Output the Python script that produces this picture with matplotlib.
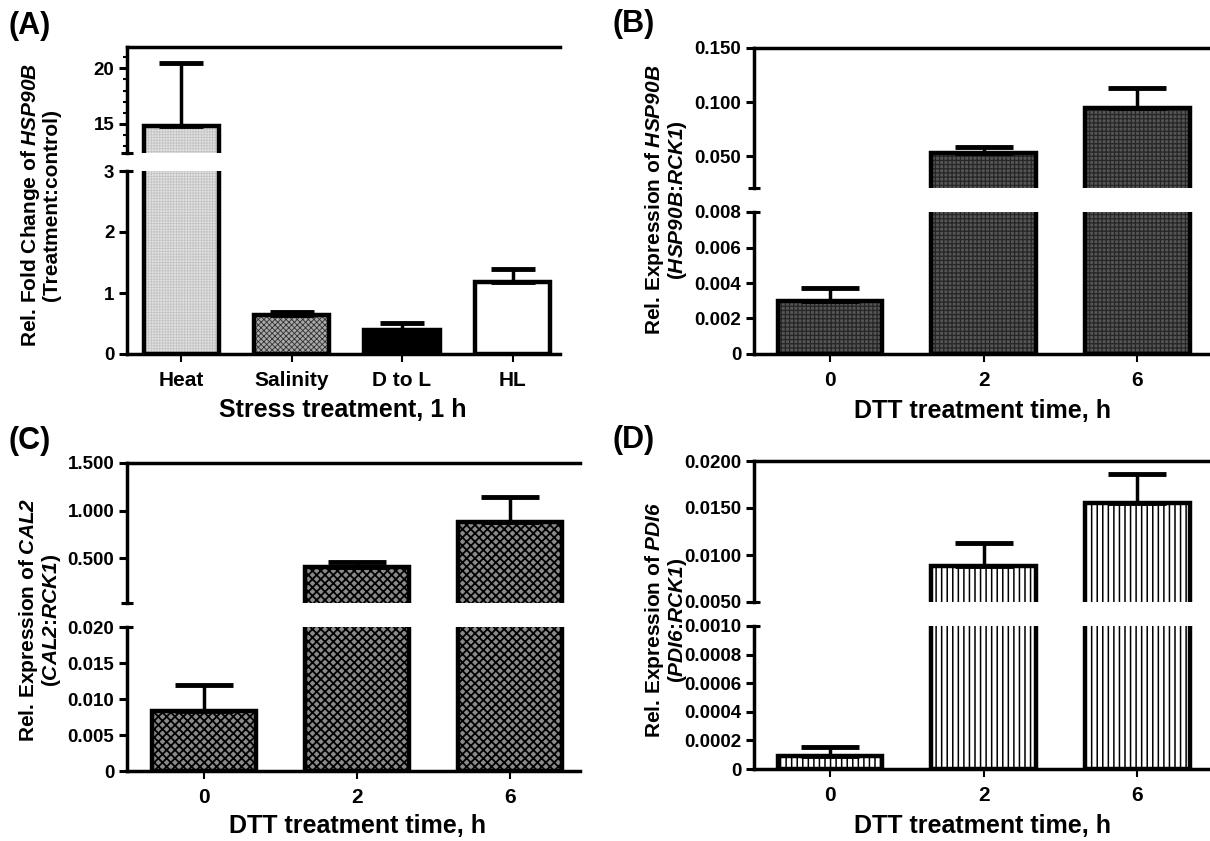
import numpy as np
import matplotlib
matplotlib.use("Agg")
import matplotlib.pyplot as plt

plt.rcParams['font.family'] = ['Liberation Sans', 'DejaVu Sans']
plt.rcParams['font.weight'] = 'bold'
# math text is only used for gene names: bold italic for letters and digits
plt.rcParams['mathtext.fontset'] = 'custom'
plt.rcParams['mathtext.rm'] = 'Liberation Sans:italic:bold'
plt.rcParams['mathtext.it'] = 'Liberation Sans:italic:bold'
plt.rcParams['mathtext.bf'] = 'Liberation Sans:italic:bold'

# (A) stress treatments, 1 h
a_labels = ["Heat", "Salinity", "D to L", "HL"]
a_vals = [14.85, 0.64, 0.40, 1.18]
a_errs = [5.6, 0.05, 0.10, 0.22]

# DTT time course (0, 2, 6 h)
dtt_labels = ["0", "2", "6"]
b_vals = [0.0030, 0.0525, 0.0948]
b_errs = [0.00074, 0.0060, 0.0183]
c_vals = [0.0083, 0.409, 0.877]
c_errs = [0.0036, 0.052, 0.263]
d_vals = [0.000093, 0.00886, 0.0155]
d_errs = [0.000062, 0.00239, 0.0031]

W, H = 1210, 841
fig = plt.figure(figsize=(W / 100, H / 100), dpi=100)


def px_axes(x0, x1, ytop, ybot):
    return fig.add_axes([x0 / W, 1 - ybot / H, (x1 - x0) / W, (ybot - ytop) / H])


def draw_bars(ax, vals, errs, style, width, capsize, ymin):
    face, hatch, hcolor, hlw = style
    x = np.arange(len(vals))
    keep = [i for i in x if vals[i] > ymin]   # skip bars that end below this segment
    xs = x[keep]
    v = np.array(vals)[keep]
    e = np.array(errs)[keep]
    faces = [face[i] for i in keep] if isinstance(face, list) else face
    hatches = [hatch[i] for i in keep] if isinstance(hatch, list) else hatch
    hcols = [hcolor[i] for i in keep] if isinstance(hcolor, list) else hcolor
    with plt.rc_context({'hatch.linewidth': hlw}):
        ax.bar(xs, v, width=width, color=faces, hatch=hatches, edgecolor=hcols, linewidth=0, zorder=2)
    ax.bar(xs, v, width=width, fill=False, edgecolor='black', linewidth=3.2, zorder=3)
    ax.errorbar(xs, v, yerr=[np.zeros(len(v)), e], fmt='none', ecolor='black',
                elinewidth=2.5, capsize=capsize, capthick=3.5, zorder=4)


def broken_panel(xpx, top_px, bot_px, vals, errs, top_lim, bot_lim, top_ticks, top_lbls,
                 bot_ticks, bot_lbls, xlim, labels, style, width, capsize, minor=None):
    ax_t = px_axes(xpx[0], xpx[1], top_px[0], top_px[1])
    ax_b = px_axes(xpx[0], xpx[1], bot_px[0], bot_px[1])
    draw_bars(ax_t, vals, errs, style, width, capsize, top_lim[0])
    draw_bars(ax_b, vals, errs, style, width, capsize, bot_lim[0] - 1)
    for ax in (ax_t, ax_b):
        ax.set_xlim(*xlim)
        ax.spines['right'].set_visible(False)
        ax.spines['left'].set_linewidth(2.5)
        ax.tick_params(axis='y', direction='out', length=6, width=2.2, labelsize=13.5, pad=3)
        ax.patch.set_alpha(0)
    ax_t.set_ylim(*top_lim)
    ax_t.set_yticks(top_ticks, top_lbls)
    if minor is not None:
        ax_t.set_yticks(minor, minor=True)
        ax_t.tick_params(axis='y', which='minor', length=3, width=1.5)
    ax_t.spines['bottom'].set_visible(False)
    ax_t.spines['top'].set_linewidth(2.5)
    ax_t.set_xticks([])
    ax_b.set_ylim(*bot_lim)
    ax_b.set_yticks(bot_ticks, bot_lbls)
    ax_b.spines['top'].set_visible(False)
    ax_b.spines['bottom'].set_linewidth(2.5)
    ax_b.set_xticks(np.arange(len(labels)), labels)
    ax_b.tick_params(axis='x', direction='out', length=6, width=1.5, labelsize=15, pad=6)
    # break marks on the y axis
    ax_t.plot([0], [0], marker='_', ms=8, mew=2.2, color='k', transform=ax_t.transAxes, clip_on=False)
    ax_b.plot([0], [1], marker='_', ms=8, mew=2.2, color='k', transform=ax_b.transAxes, clip_on=False)
    return ax_t, ax_b


# (A)
broken_panel((127, 560), (47, 153), (171, 354), a_vals, a_errs,
             (12.4, 21.9), (0, 3), [15, 20], ["15", "20"], [0, 1, 2, 3], ["0", "1", "2", "3"],
             (-0.49, 3.43), a_labels,
             (['#e2e2e2', '#a8a8a8', 'black', 'white'], ['++++++', 'xxxxxx', None, None],
              ['#c4c4c4', '#303030', 'black', 'white'], 0.6),
             0.68, 16, minor=np.arange(13, 22))

# (B)
broken_panel((754, 1208), (48, 188), (212, 354), b_vals, b_errs,
             (0.0206, 0.150), (0, 0.008), [0.05, 0.1, 0.15], ["0.050", "0.100", "0.150"],
             [0, 0.002, 0.004, 0.006, 0.008], ["0", "0.002", "0.004", "0.006", "0.008"],
             (-0.495, 2.46), dtt_labels, ('#555555', '++++', '#262626', 0.9), 0.68, 21)

# (C)
broken_panel((127, 580), (463, 603), (627, 771), c_vals, c_errs,
             (0.028, 1.5), (0, 0.020), [0.5, 1.0, 1.5], ["0.500", "1.000", "1.500"],
             [0, 0.005, 0.01, 0.015, 0.02], ["0", "0.005", "0.010", "0.015", "0.020"],
             (-0.503, 2.46), dtt_labels, ('#8a8a8a', 'xxxx', 'black', 1.3), 0.68, 21)

# (D)
broken_panel((754, 1208), (461, 602), (626, 769), d_vals, d_errs,
             (0.005, 0.020), (0, 0.0010), [0.005, 0.01, 0.015, 0.02],
             ["0.0050", "0.0100", "0.0150", "0.0200"],
             [0, 0.0002, 0.0004, 0.0006, 0.0008, 0.001],
             ["0", "0.0002", "0.0004", "0.0006", "0.0008", "0.0010"],
             (-0.495, 2.46), dtt_labels, ('white', '|||', 'black', 1.1), 0.68, 21)

# x labels
for xc, yc, txt in [(343, 410, "Stress treatment, 1 h"), (982, 411, "DTT treatment time, h"),
                    (357, 826, "DTT treatment time, h"), (982, 826, "DTT treatment time, h")]:
    fig.text(xc / W, 1 - yc / H, txt, ha='center', va='center', fontsize=18)

# y labels
ylabs = [(40, 205, "Rel. Fold Change of $HSP90B$\n(Treatment:control)"),
         (666, 200, "Rel. Expression of $HSP90B$\n($HSP90B$:$RCK1$)"),
         (40, 620, "Rel. Expression of $CAL2$\n($CAL2$:$RCK1$)"),
         (666, 620, "Rel. Expression of $PDI6$\n($PDI6$:$RCK1$)")]
for xc, yc, txt in ylabs:
    fig.text(xc / W, 1 - yc / H, txt, ha='center', va='center', rotation=90,
             fontsize=15, linespacing=1.0, multialignment='center')

# panel letters
for xl, yl, lab in [(9, 26, "(A)"), (613, 24, "(B)"), (9, 441, "(C)"), (613, 440, "(D)")]:
    fig.text(xl / W, 1 - yl / H, lab, ha='left', va='center', fontsize=22)

fig.savefig("out.png", dpi=100)
